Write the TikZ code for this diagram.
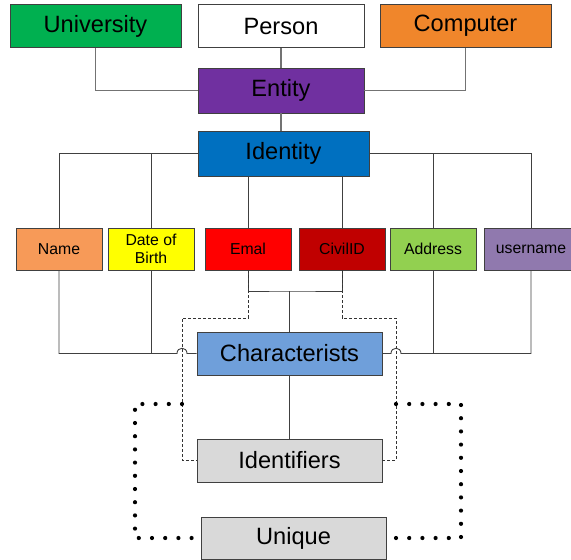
\documentclass[tikz,border=0pt]{standalone}
\usepackage{fontspec}
\setmainfont{Liberation Sans}
\definecolor{cUniv}{HTML}{00B050}
\definecolor{cComp}{HTML}{F0862B}
\definecolor{cEnt}{HTML}{7030A0}
\definecolor{cIdt}{HTML}{0070C0}
\definecolor{cName}{HTML}{F79A58}
\definecolor{cDob}{HTML}{FFFF00}
\definecolor{cMail}{HTML}{FF0000}
\definecolor{cCivil}{HTML}{C00000}
\definecolor{cAddr}{HTML}{92D050}
\definecolor{cUser}{HTML}{9079AE}
\definecolor{cChar}{HTML}{6F9FDA}
\definecolor{cGrey}{HTML}{D9D9D9}
\definecolor{cEdge}{HTML}{404040}
\tikzset{
  box/.style={rectangle, draw=cEdge, line width=0.9pt, inner sep=0pt, align=center,
              text=black},
  bigbox/.style={box, minimum height=43pt, font=\fontsize{23.6}{27}\selectfont},
  attr/.style={box, minimum width=86pt, minimum height=42pt,
               font=\fontsize{15.8}{18}\selectfont},
  conn/.style={draw=black!75, line width=0.9pt},
  upconn/.style={draw=black!55, line width=1.1pt},
  dashline/.style={draw=black!80, line width=0.8pt, dash pattern=on 3pt off 2pt},
  dotline/.style={draw=black, line width=4.2pt, line cap=round,
                  dash pattern=on 0pt off 13.2pt}
}
\begin{document}
\begin{tikzpicture}[x=1pt,y=-1pt]
\useasboundingbox (0,0) rectangle (571,560);

% top row
\node[bigbox, fill=cUniv, minimum width=171pt] (univ) at (95.5,26) {University};
\node[bigbox, fill=white, minimum width=166pt] (person) at (281,26) {Person};
\node[bigbox, fill=cComp, minimum width=171pt] (comp) at (465.5,26) {Computer};

% entity and identity
\node[bigbox, fill=cEnt, minimum width=166pt, minimum height=45pt] (entity) at (281,90.5) {Entity};
\node[bigbox, fill=cIdt, minimum width=171pt, minimum height=45pt] (ident) at (283.5,153.5) {Identity};

% attribute row
\node[attr, fill=cName] (name) at (59,249) {Name};
\node[attr, fill=cDob] (dob) at (151,249) {Date of\\Birth};
\node[attr, fill=cMail] (mail) at (248,249) {Emal};
\node[attr, fill=cCivil] (civil) at (342,249) {CivilID};
\node[attr, fill=cAddr] (addr) at (433,249) {Address};
\node[attr, fill=cUser, minimum width=94pt] (user) at (531,249) {username};

% lower boxes
\node[bigbox, fill=cChar, minimum width=185pt] (charac) at (289.5,353.5) {Characterists};
\node[bigbox, fill=cGrey, minimum width=185pt] (idfs) at (289.5,460.5) {Identifiers};
\node[bigbox, fill=cGrey, minimum width=185pt, minimum height=42pt] (uniq) at (293.5,538) {Unique};

% helper points
\coordinate (jn) at (289.5,291);
\coordinate (dL) at (182,318);
\coordinate (dR) at (396,318);
\coordinate (oL) at (135,404);
\coordinate (oR) at (461,404);

% upper connectors
\draw[upconn] (univ.south) |- (entity.west);
\draw[upconn] (comp.south) |- (entity.east);
\draw[upconn] (person.south) -- (entity.north);
\draw[upconn] (entity.south) -- (entity.south |- ident.north);

% identity to attributes
\draw[conn] (ident.west) -| (name.north);
\draw[conn] (dob.north |- ident.west) -- (dob.north);
\draw[conn] (ident.east) -| (user.north);
\draw[conn] (addr.north |- ident.east) -- (addr.north);
\draw[conn] (mail.north |- ident.south) -- (mail.north);
\draw[conn] (civil.north |- ident.south) -- (civil.north);

% attributes to characterists (with hops over the dashed lines)
\draw[conn] (mail.south) |- (jn) -| (civil.south);
\draw[conn] (jn) -- (charac.north);
\draw[conn] (name.south) |- (177,353.5) .. controls (177,346.5) and (187,346.5) .. (187,353.5) -- (charac.west);
\draw[conn] (dob.south) -- (dob.south |- charac.west);
\draw[conn] (charac.east) -- (391,353.5) .. controls (391,346.5) and (401,346.5) .. (401,353.5) -| (user.south);
\draw[conn] (addr.south) -- (addr.south |- charac.east);
\draw[conn] (charac.south) -- (idfs.north);

% dashed links to identifiers
\draw[dashline] (mail.south) |- (dL) |- (idfs.west);
\draw[dashline] (civil.south) |- (dR) |- (idfs.east);

% dotted links to unique
\draw[dotline] (dL |- oL) -- (oL) |- (uniq.west);
\draw[dotline] (dR |- oR) -- (oR) |- (uniq.east);
\end{tikzpicture}
\end{document}
